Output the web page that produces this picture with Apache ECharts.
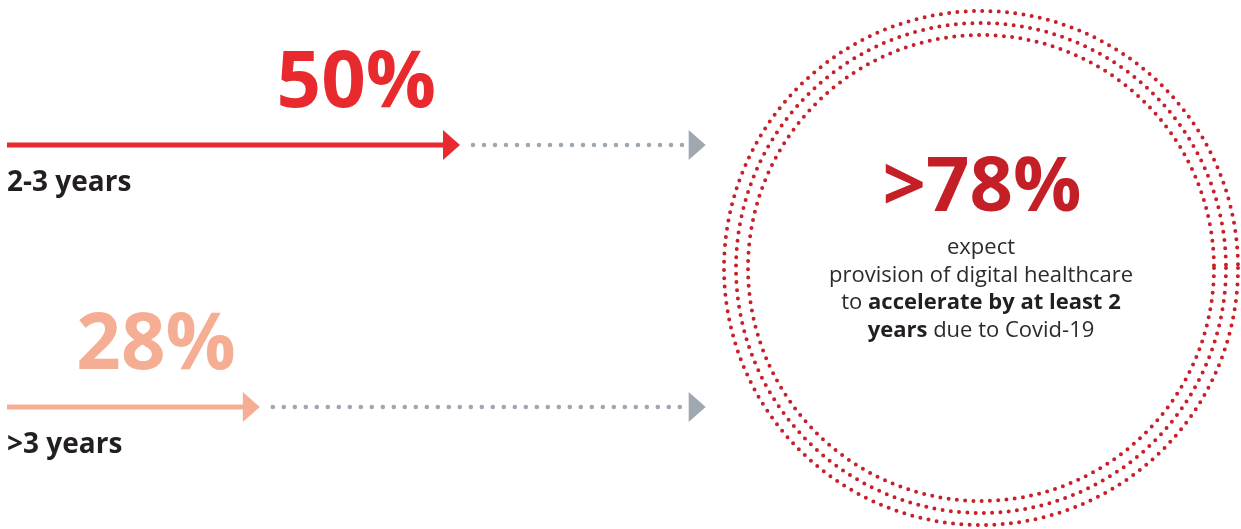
<!DOCTYPE html>
<html>
<head>
<meta charset="utf-8">
<script src="https://cdn.jsdelivr.net/npm/echarts@6/dist/echarts.min.js"></script>
<style>
  html, body { margin: 0; padding: 0; background: #fff; }
  #chart { width: 1241px; height: 529px; }
</style>
</head>
<body>
<div id="chart"></div>
<script>
// data
var categories = ['2-3 years', '>3 years'];
var shares = [50, 28];
var headline = 78;            // ">78%" in the ring
var pointerEnd = 77;          // where the grey dotted pointers stop (same scale)
var bodyLines = [
  'expect',
  'provision of digital healthcare',
  'to {b|accelerate by at least 2}',
  '{b|years} due to Covid-19'
];

var arrowColors = ['#e8292e', '#f5ae94'];
var grey = '#9fa8b0';
var ringRed = '#c8202a';

var chart = echarts.init(document.getElementById('chart'), null, { renderer: 'canvas' });

function renderArrow(params, api) {
  var i = params.dataIndex;
  var cat = api.value(1);
  var start = api.coord([0, cat]);
  var tip = api.coord([api.value(0), cat]);
  var end = api.coord([pointerEnd, cat]);
  var y = tip[1];
  var head = 17, half = 15;
  var col = arrowColors[i];
  return {
    type: 'group',
    children: [
      { type: 'line', shape: { x1: start[0] + 2, y1: y, x2: tip[0] - head + 1, y2: y },
        style: { stroke: col, lineWidth: 5 } },
      { type: 'polygon', shape: { points: [[tip[0] - head, y - half], [tip[0], y], [tip[0] - head, y + half]] },
        style: { fill: col } },
      { type: 'line', shape: { x1: tip[0] + 13, y1: y, x2: end[0] - head - 6, y2: y },
        style: { stroke: grey, lineWidth: 4.6, lineDash: [0, 11], lineCap: 'round' } },
      { type: 'polygon', shape: { points: [[end[0] - head, y - half], [end[0], y], [end[0] - head, y + half]] },
        style: { fill: grey } },
      { type: 'text', x: tip[0] - 24, y: y - 60,
        style: { text: api.value(0) + '%', fill: col, font: 'bold 78px "Open Sans"', align: 'right', verticalAlign: 'middle' } },
      { type: 'text', x: start[0] + 2, y: y + 38,
        style: { text: categories[i], fill: '#231f20', font: 'bold 28px "Open Sans"', align: 'left', verticalAlign: 'middle' } }
    ]
  };
}

var rings = [257, 245, 233].map(function (r) {
  return {
    type: 'circle', shape: { cx: 981, cy: 268, r: r }, silent: true,
    style: { fill: null, stroke: ringRed, lineWidth: 4, lineDash: [0, 8.3], lineCap: 'round' }
  };
});

var option = {
  animation: false,
  grid: { left: 5, width: 910, top: 145, height: 262 },
  xAxis: { type: 'value', min: 0, max: 100, show: false },
  yAxis: { type: 'category', data: categories, inverse: true, boundaryGap: false, show: false },
  series: [{
    type: 'custom',
    renderItem: renderArrow,
    clip: false,
    data: shares.map(function (v, i) { return [v, i]; })
  }],
  graphic: rings.concat([
    { type: 'text', x: 982, y: 189,
      style: { text: '>' + headline + '%', fill: '#c41e26', font: 'bold 76px "Open Sans"', align: 'center', verticalAlign: 'middle' } },
    { type: 'text', x: 981, y: 234,
      style: {
        text: bodyLines.join('\n'), fill: '#2b2b2b', font: '22px "Open Sans"', align: 'center', verticalAlign: 'top',
        lineHeight: 27.5,
        rich: { b: { font: 'bold 22px "Open Sans"', fill: '#231f20', lineHeight: 27.5 } }
      } }
  ])
};

chart.setOption(option);
</script>
</body>
</html>
